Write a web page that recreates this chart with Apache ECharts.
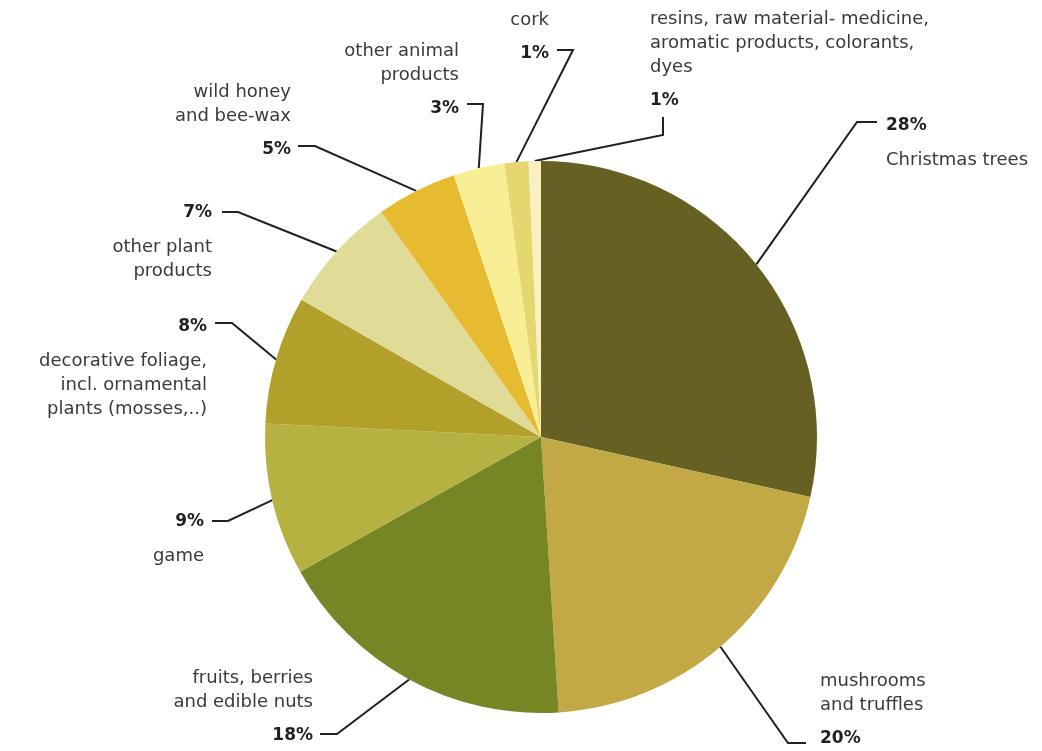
<!DOCTYPE html>
<html>
<head>
<meta charset="utf-8">
<script src="https://cdn.jsdelivr.net/npm/echarts@6/dist/echarts.min.js"></script>
<style>
  html, body { margin: 0; padding: 0; background: #fff; }
  #chart { width: 1042px; height: 751px; }
</style>
</head>
<body>
<div id="chart"></div>
<script>
// Shares of non-wood forest product value (percent)
const categories = [
  'Christmas trees',
  'mushrooms\nand truffles',
  'fruits, berries\nand edible nuts',
  'game',
  'decorative foliage,\nincl. ornamental\nplants (mosses,..)',
  'other plant\nproducts',
  'wild honey\nand bee-wax',
  'other animal\nproducts',
  'cork',
  'resins, raw material- medicine,\naromatic products, colorants,\ndyes'
];
const shares = [28.49, 20.49, 17.9, 8.9, 7.5, 6.9, 4.7, 3.0, 1.4, 0.72];
const sliceColors = ['#666123', '#C3A945', '#768625', '#B5B242', '#B2A02A',
                     '#E0DB97', '#E6BB2F', '#F8EE95', '#E6D670', '#F8F0C0'];

// Label placement: text block anchor, whether the percent sits above the name,
// and the bend / end points of each leader line.
const labelPlacement = [
  { x: 886, y: 104, align: 'left',  pctFirst: true,  bend: [857, 122], end: [877, 122] },
  { x: 820, y: 669, align: 'left',  pctFirst: false, bend: [788, 743], end: [806, 743] },
  { x: 313, y: 666, align: 'right', pctFirst: false, bend: [337, 734], end: [320, 734] },
  { x: 204, y: 500, align: 'right', pctFirst: true,  bend: [228, 521], end: [212, 521] },
  { x: 207, y: 305, align: 'right', pctFirst: true,  bend: [232, 323], end: [215, 323] },
  { x: 212, y: 191, align: 'right', pctFirst: true,  bend: [238, 212], end: [222, 212] },
  { x: 291, y: 80,  align: 'right', pctFirst: false, bend: [315, 146], end: [298, 146] },
  { x: 459, y: 39,  align: 'right', pctFirst: false, bend: [483, 104], end: [467, 104] },
  { x: 549, y: 8,   align: 'right', pctFirst: false, bend: [573, 50],  end: [557, 50] },
  { x: 650, y: 7,   align: 'left',  pctFirst: false, bend: [663, 135], end: [663, 117] }
];

const chart = echarts.init(document.getElementById('chart'), null, { renderer: 'canvas' });

const data = categories.map((name, i) => ({
  name: name,
  value: shares[i],
  itemStyle: { color: sliceColors[i] }
}));

chart.setOption({
  animation: false,
  backgroundColor: '#ffffff',
  series: [{
    type: 'pie',
    center: [541, 437],
    radius: [0, 276],
    startAngle: 90,
    clockwise: true,
    avoidLabelOverlap: false,
    data: data,
    label: {
      show: true,
      position: 'outside',
      formatter: function (p) {
        const pct = '{p|' + Math.round(p.value) + '%}';
        const names = p.name.split('\n').map(s => '{n|' + s + '}').join('\n');
        return labelPlacement[p.dataIndex].pctFirst ? pct + '\n' + names : names + '\n' + pct;
      },
      rich: {
        p: { fontFamily: 'DejaVu Sans', fontWeight: 'bold', fontSize: 17, color: '#231f20', lineHeight: 44 },
        n: { fontFamily: 'DejaVu Sans', fontWeight: 'normal', fontSize: 18, color: '#3a3a3a', lineHeight: 24 }
      }
    },
    labelLine: {
      show: true,
      smooth: false,
      lineStyle: { color: '#231f20', width: 2 }
    },
    labelLayout: function (params) {
      const lp = labelPlacement[params.dataIndex];
      const start = params.labelLinePoints ? params.labelLinePoints[0] : lp.bend;
      return {
        x: lp.x,
        y: lp.y,
        align: lp.align,
        verticalAlign: 'top',
        labelLinePoints: [start, lp.bend, lp.end]
      };
    },
    emphasis: { disabled: true }
  }]
});
</script>
</body>
</html>
